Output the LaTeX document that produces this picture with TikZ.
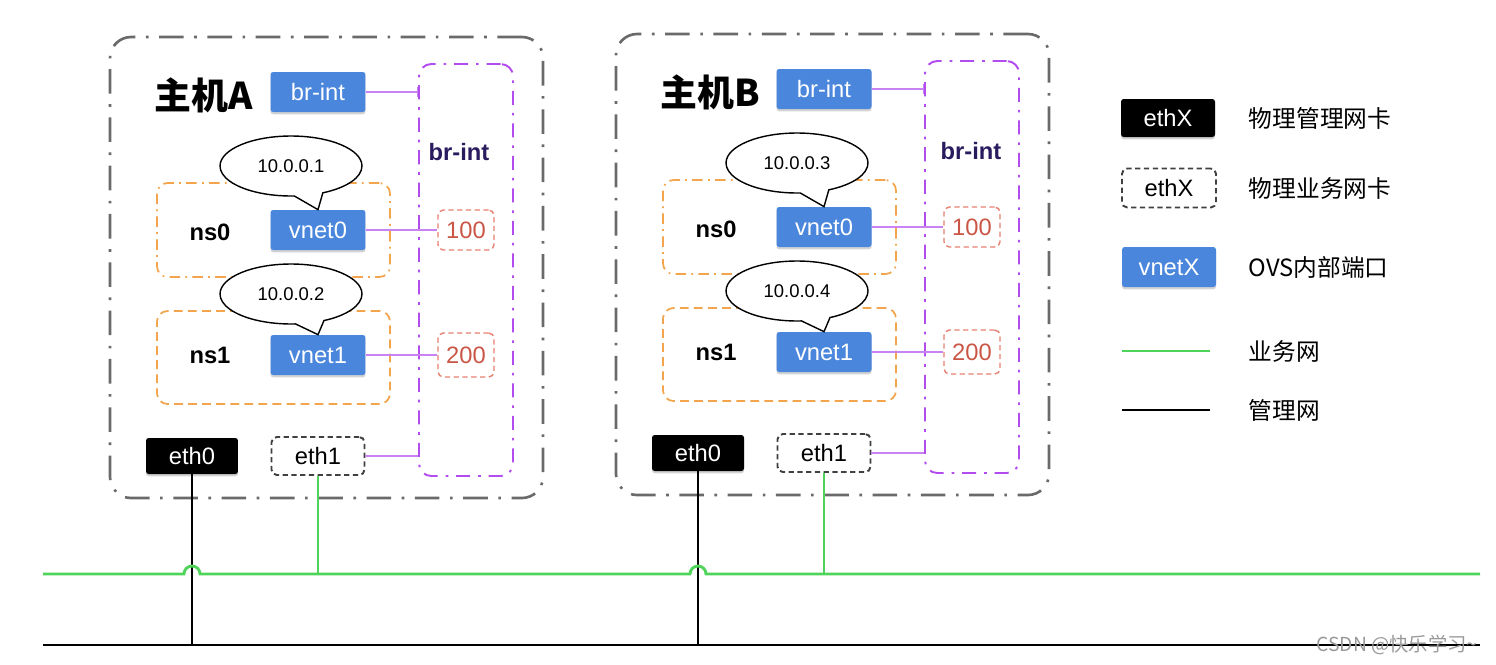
\documentclass[tikz,border=0pt]{standalone}
\usepackage{fontspec}
\setmainfont{Liberation Sans}
\newfontfamily\cjk{Noto Sans CJK SC}
\usetikzlibrary{arrows.meta,positioning,shapes.callouts,shadows,fit,calc}
\usepackage{xcolor}

\definecolor{portblue}{HTML}{4A87DC}
\definecolor{ovsviolet}{HTML}{B24CEE}
\definecolor{nsorange}{HTML}{F2A54C}
\definecolor{tagred}{HTML}{E0604E}
\definecolor{brlabel}{HTML}{2A1A5E}
\definecolor{busgreen}{HTML}{4FD45A}
\definecolor{hostgray}{HTML}{6A6A6A}

\tikzset{
    hostbox/.style={draw=hostgray, line width=1.5pt, rounded corners=12pt, inner sep=0pt,
        dash pattern=on 14pt off 6pt on 1.5pt off 6pt},
    ovsbox/.style={draw=ovsviolet, line width=1.1pt, rounded corners=7pt, inner sep=0pt,
        dash pattern=on 8pt off 4.5pt on 1.5pt off 4.5pt},
    nsbox/.style={draw=nsorange, line width=1pt, rounded corners=6pt, inner sep=0pt},
    vport/.style={rectangle, rounded corners=1.5pt, fill=portblue, text=white,
        minimum width=1.9cm, minimum height=0.8cm, inner sep=0pt,
        drop shadow={shadow xshift=0pt, shadow yshift=-1.3pt, opacity=0.35}},
    mgmtnic/.style={rectangle, rounded corners=1.5pt, fill=black, text=white,
        minimum width=1.84cm, minimum height=0.72cm, inner sep=0pt,
        drop shadow={shadow xshift=0pt, shadow yshift=-1.3pt, opacity=0.35}},
    datanic/.style={rectangle, rounded corners=3pt, draw=black!75, line width=1.1pt,
        dash pattern=on 3pt off 2pt, fill=white,
        minimum width=1.86cm, minimum height=0.76cm, inner sep=0pt},
    vlantag/.style={rectangle, rounded corners=3pt, draw=tagred!80, line width=0.8pt,
        dash pattern=on 3pt off 2pt, text=tagred!90!black,
        minimum width=1.12cm, minimum height=0.8cm, inner sep=0pt},
    ipbubble/.style={ellipse callout, draw=black, line width=0.8pt, fill=white,
        minimum width=2.84cm, minimum height=1.2cm, inner sep=0pt,
        callout pointer arc=24, font=\fontsize{10.5}{12}\selectfont},
    hosttitle/.style={font=\cjk\bfseries\fontsize{21}{24}\selectfont},
    nslabel/.style={font=\bfseries\fontsize{13.5}{16}\selectfont},
    ovslabel/.style={text=brlabel, font=\bfseries\fontsize{13.5}{16}\selectfont},
    legendtext/.style={anchor=west, font=\cjk\fontsize{13.5}{16}\selectfont},
    ovslink/.style={draw=ovsviolet!70, line width=0.8pt},
    dataline/.style={draw=busgreen, line width=1.6pt},
    mgmtline/.style={draw=black, line width=1.6pt}
}

\begin{document}
\begin{tikzpicture}[x=0.02cm, y=0.02cm, every node/.style={
    inner sep=2pt,
    font=\fontsize{13.5}{16}\selectfont
}]
    \useasboundingbox (0,0) rectangle (1496,-664);

    % host A
    \node (hostA) [hostbox, fit={(110,-37) (543,-498)}] {};
    \node (ovsA) [ovsbox, fit={(419,-64) (513,-476)}] {};
    \node (ns0A) [nsbox, dash pattern=on 6pt off 3pt on 1pt off 3pt, fit={(157,-183) (390,-277)}] {};
    \node (ns1A) [nsbox, dash pattern=on 5pt off 3pt, fit={(157,-311) (390,-404)}] {};
    \node (titleA) [hosttitle] at (204,-95) {主机A};
    \node (brintA) [vport] at (318,-92) {br-int};
    \node (ovslabelA) [ovslabel] at (459,-152) {br-int};
    \node (ns0labelA) [nslabel] at (210,-232) {ns0};
    \node (vnet0A) [vport] at (318,-230) {vnet0};
    \node (tag100A) [vlantag] at (466,-230) {100};
    \node (ns1labelA) [nslabel] at (210,-355) {ns1};
    \node (vnet1A) [vport] at (318,-355) {vnet1};
    \node (tag200A) [vlantag, minimum height=0.88cm] at (466,-355) {200};
    \node (eth0A) [mgmtnic] at (192,-456) {eth0};
    \node (eth1A) [datanic] at (318,-456) {eth1};
    \node (ip0A) [ipbubble, callout absolute pointer={(vnet0A.north)}] at (291,-166) {10.0.0.1};
    \node (ip1A) [ipbubble, callout absolute pointer={(vnet1A.north)}] at (291,-294) {10.0.0.2};

    % host B
    \node (hostB) [hostbox, fit={(616,-34) (1049,-495)}] {};
    \node (ovsB) [ovsbox, fit={(925,-61) (1019,-473)}] {};
    \node (ns0B) [nsbox, dash pattern=on 6pt off 3pt on 1pt off 3pt, fit={(663,-180) (896,-274)}] {};
    \node (ns1B) [nsbox, dash pattern=on 5pt off 3pt, fit={(663,-308) (896,-401)}] {};
    \node (titleB) [hosttitle] at (710,-92) {主机B};
    \node (brintB) [vport] at (824,-89) {br-int};
    \node (ovslabelB) [ovslabel] at (971,-151) {br-int};
    \node (ns0labelB) [nslabel] at (716,-229) {ns0};
    \node (vnet0B) [vport] at (824,-227) {vnet0};
    \node (tag100B) [vlantag] at (972,-227) {100};
    \node (ns1labelB) [nslabel] at (716,-352) {ns1};
    \node (vnet1B) [vport] at (824,-352) {vnet1};
    \node (tag200B) [vlantag, minimum height=0.88cm] at (972,-352) {200};
    \node (eth0B) [mgmtnic] at (698,-453) {eth0};
    \node (eth1B) [datanic] at (824,-453) {eth1};
    \node (ip0B) [ipbubble, callout absolute pointer={(vnet0B.north)}] at (797,-163) {10.0.0.3};
    \node (ip1B) [ipbubble, callout absolute pointer={(vnet1B.north)}] at (797,-291) {10.0.0.4};

    % links to the ovs bridge
    \draw[ovslink, -{Bar[width=6pt]}] (brintA) to (brintA -| ovsA.west);
    \draw[ovslink] (vnet0A) to (tag100A);
    \draw[ovslink] (vnet1A) to (tag200A);
    \draw[ovslink] (eth1A) to (eth1A -| ovsA.west);
    \draw[ovslink, -{Bar[width=6pt]}] (brintB) to (brintB -| ovsB.west);
    \draw[ovslink] (vnet0B) to (tag100B);
    \draw[ovslink] (vnet1B) to (tag200B);
    \draw[ovslink] (eth1B) to (eth1B -| ovsB.west);

    % networks
    \coordinate (busW) at (43,-574);
    \coordinate (busE) at (1480,-571);
    \coordinate (mgmtW) at (43,-645);
    \coordinate (mgmtE) at (1480,-645);
    \draw[mgmtline] (mgmtW) to (mgmtE);
    \draw[mgmtline] (eth0A) to (eth0A |- mgmtW);
    \draw[mgmtline] (eth0B) to (eth0B |- mgmtW);
    \draw[dataline] (eth1A) to (eth1A |- busW);
    \draw[dataline] (eth1B) to (eth1B |- busW);
    \draw[dataline] (busW) -- ($(eth0A |- busW)+(-8,0)$)
        arc[start angle=180, end angle=0, radius=0.16cm]
        -- ($(eth0B |- busW)+(-8,0)$)
        arc[start angle=180, end angle=0, radius=0.16cm]
        -- (busE |- busW);

    % legend
    \node (legMgmt) [mgmtnic, minimum width=1.88cm, minimum height=0.76cm] at (1168,-118) {ethX};
    \node (legMgmtText) [legendtext] at (1245,-118) {物理管理网卡};
    \node (legData) [datanic, minimum width=1.88cm, minimum height=0.78cm] at (1169,-188) {ethX};
    \node (legDataText) [legendtext] at (1245,-188) {物理业务网卡};
    \node (legPort) [vport, minimum width=1.88cm] at (1169,-267) {vnetX};
    \node (legPortText) [legendtext] at (1245,-267) {OVS内部端口};
    \coordinate (legBusW) at (1122,-351);
    \coordinate (legBusE) at (1210,-351);
    \draw[dataline] (legBusW) to (legBusE);
    \node (legBusText) [legendtext] at (1245,-351) {业务网};
    \coordinate (legMgmtW) at (1122,-410);
    \coordinate (legMgmtE) at (1210,-410);
    \draw[mgmtline] (legMgmtW) to (legMgmtE);
    \node (legMgmtLineText) [legendtext] at (1245,-410) {管理网};

    \node (mark) [text=gray!80, font=\cjk\fontsize{11}{13}\selectfont] at (1397,-645) {CSDN @快乐学习\textasciitilde};
\end{tikzpicture}
\end{document}
